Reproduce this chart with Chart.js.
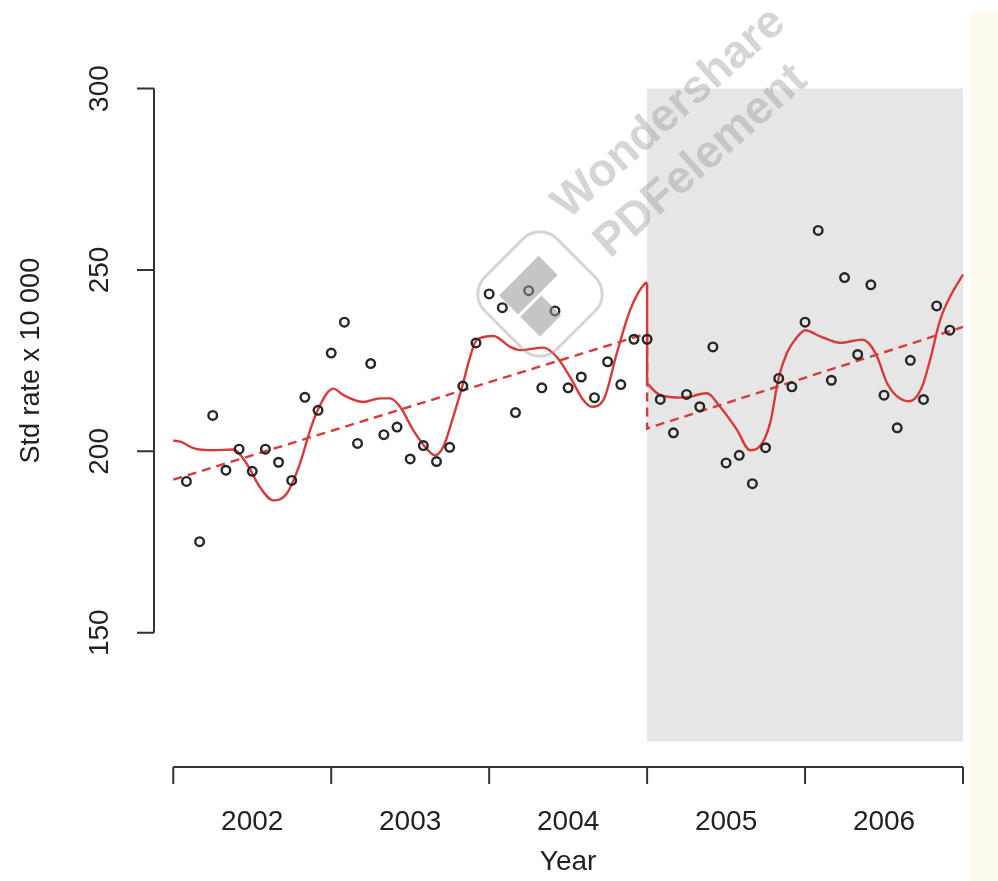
<!DOCTYPE html>
<html>
<head>
<meta charset="utf-8">
<script src="https://cdn.jsdelivr.net/npm/chart.js@4/dist/chart.umd.min.js"></script>
<style>
	html, body { margin: 0; padding: 0; background: #ffffff; }
	#wrap { position: relative; width: 998px; height: 881px; }
	#strip { position: absolute; left: 970px; top: 11px; width: 28px; height: 870px; background: #fffaf0; }
	#chart { position: absolute; left: 0; top: 0; }
</style>
</head>
<body>
<div id="wrap">
	<div id="strip"></div>
	<canvas id="chart" width="998" height="881"></canvas>
</div>
<script>
// monthly observations, Jan 2002 .. Nov 2006
const observed = [
	191.7, 175.1, 209.9, 194.8, 200.6, 194.5, 200.6, 197.0, 192.0, 214.9, 211.3, 227.1,
	235.6, 202.2, 224.2, 204.6, 206.7, 197.9, 201.6, 197.2, 201.1, 218.0, 229.9, 243.4,
	239.6, 210.7, 244.3, 217.5, 238.7, 217.5, 220.5, 214.8, 224.7, 218.4, 230.9, 230.9,
	214.3, 205.1, 215.7, 212.3, 228.8, 196.8, 198.9, 191.1, 201.0, 220.1, 217.8, 235.6,
	260.9, 219.6, 247.9, 226.7, 245.9, 215.5, 206.5, 225.1, 214.3, 240.1, 233.4,
];
const startYear = 2002;

// seasonal fit before the intervention (2002-2004)
const fitX1 = [2002.000, 2002.050, 2002.127, 2002.253, 2002.380, 2002.465, 2002.549, 2002.633,
	2002.718, 2002.802, 2002.866, 2002.912, 2002.971, 2003.013, 2003.077, 2003.203, 2003.309,
	2003.372, 2003.436, 2003.520, 2003.605, 2003.657, 2003.710, 2003.773, 2003.830, 2003.879,
	2003.921, 2004.027, 2004.133, 2004.196, 2004.343, 2004.428, 2004.512, 2004.597, 2004.650,
	2004.723, 2004.808, 2004.892, 2004.987, 2005.000];
const fitY1 = [203.0, 202.6, 200.9, 200.3, 200.5, 196.6, 190.1, 186.5,
	188.3, 196.6, 205.8, 211.1, 215.9, 217.3, 215.5, 213.6, 214.6,
	214.6, 212.3, 205.8, 200.7, 198.9, 201.3, 209.6, 218.0, 226.0,
	230.7, 231.8, 228.8, 227.9, 228.6, 226.0, 220.5, 214.1, 212.3,
	214.1, 227.0, 238.9, 246.3, 246.5];

// seasonal fit after the intervention (2005-2006)
const fitX2 = [2005.000, 2005.082, 2005.228, 2005.378, 2005.462, 2005.568, 2005.652, 2005.705,
	2005.779, 2005.832, 2005.885, 2005.948, 2006.001, 2006.096, 2006.222, 2006.360, 2006.401,
	2006.455, 2006.518, 2006.581, 2006.655, 2006.708, 2006.750, 2006.792, 2006.856, 2006.919,
	2007.000];
const fitY2 = [218.7, 215.5, 214.8, 216.0, 212.3, 206.0, 200.3, 201.0,
	207.8, 220.1, 227.1, 231.4, 233.4, 231.7, 229.9, 230.8, 229.9,
	226.2, 218.9, 215.2, 213.8, 215.2, 218.9, 225.3, 236.3, 242.7,
	248.7];

// linear trend, with the level step at 2005
const trendX = [2002, 2005, 2005, 2007];
const trendY = [192.2, 232.5, 206.3, 234.3];

const yTicks = [150, 200, 250, 300];
const yearTicks = [2002, 2003, 2004, 2005, 2006, 2007];
const yearLabels = ['2002', '2003', '2004', '2005', '2006'];
const xTitle = 'Year';
const yTitle = 'Std rate x 10 000';

const shadeFrom = 2005;
const shadeTo = 2007;
const shadeTop = 300;
const shadeBottom = 120;

const RED = '#d63b3b';
const INK = '#333333';
const FONT = 'Liberation Sans, Arial, sans-serif';

function toPoints(xs, ys) {
	return xs.map((x, i) => ({ x, y: ys[i] }));
}

const obsPoints = observed.map((v, i) => ({ x: startYear + (i + 1) / 12, y: v }));
const jumpPoints = [
	{ x: fitX1[fitX1.length - 1], y: fitY1[fitY1.length - 1] },
	{ x: fitX2[0], y: fitY2[0] },
];

const shadePlugin = {
	id: 'shade',
	beforeDatasetsDraw(chart) {
		const { ctx, scales: { x, y } } = chart;
		ctx.save();
		ctx.fillStyle = '#e6e6e6';
		const x0 = x.getPixelForValue(shadeFrom);
		const x1 = x.getPixelForValue(shadeTo);
		const y0 = y.getPixelForValue(shadeTop);
		const y1 = y.getPixelForValue(shadeBottom);
		ctx.fillRect(x0, y0, x1 - x0, y1 - y0);
		ctx.restore();
	},
};

// R style axes: lines only over the tick range, rotated y labels
const axesPlugin = {
	id: 'rAxes',
	afterDraw(chart) {
		const { ctx, chartArea, scales: { x, y } } = chart;
		const tick = 17;
		ctx.save();
		ctx.strokeStyle = INK;
		ctx.fillStyle = '#222222';
		ctx.lineWidth = 2;

		// y axis
		const ax = chartArea.left;
		ctx.beginPath();
		ctx.moveTo(ax, y.getPixelForValue(yTicks[0]));
		ctx.lineTo(ax, y.getPixelForValue(yTicks[yTicks.length - 1]));
		yTicks.forEach((t) => {
			const py = y.getPixelForValue(t);
			ctx.moveTo(ax - tick, py);
			ctx.lineTo(ax, py);
		});
		ctx.stroke();
		ctx.font = '28px ' + FONT;
		ctx.textAlign = 'center';
		ctx.textBaseline = 'middle';
		yTicks.forEach((t) => {
			ctx.save();
			ctx.translate(ax - 54, y.getPixelForValue(t));
			ctx.rotate(-Math.PI / 2);
			ctx.fillText(String(t), 0, 0);
			ctx.restore();
		});
		ctx.save();
		ctx.font = '27px ' + FONT;
		ctx.translate(32, (y.getPixelForValue(yTicks[0]) + y.getPixelForValue(yTicks[yTicks.length - 1])) / 2);
		ctx.rotate(-Math.PI / 2);
		ctx.fillText(yTitle, 0, 0);
		ctx.restore();

		// x axis
		const ay = chartArea.bottom;
		ctx.beginPath();
		ctx.moveTo(x.getPixelForValue(yearTicks[0]), ay);
		ctx.lineTo(x.getPixelForValue(yearTicks[yearTicks.length - 1]), ay);
		yearTicks.forEach((t) => {
			const px = x.getPixelForValue(t);
			ctx.moveTo(px, ay);
			ctx.lineTo(px, ay + tick);
		});
		ctx.stroke();
		ctx.font = '28px ' + FONT;
		yearLabels.forEach((lab, i) => {
			ctx.fillText(lab, x.getPixelForValue(yearTicks[i] + 0.5), ay + 55);
		});
		ctx.fillText(xTitle, x.getPixelForValue((yearTicks[0] + yearTicks[yearTicks.length - 1]) / 2), ay + 95);
		ctx.restore();
	},
};

// the PDF editor watermark that sits over the picture
const watermarkPlugin = {
	id: 'watermark',
	afterDatasetsDraw(chart) {
		const { ctx } = chart;
		const angle = -41.5 * Math.PI / 180;
		ctx.save();
		ctx.globalAlpha = 0.4;
		ctx.fillStyle = '#969696';
		ctx.strokeStyle = '#969696';
		ctx.font = 'bold 46px ' + FONT;
		ctx.textAlign = 'left';
		ctx.textBaseline = 'alphabetic';
		ctx.save();
		ctx.translate(568, 220);
		ctx.rotate(angle);
		ctx.fillText('Wondershare', 0, 0);
		ctx.restore();
		ctx.save();
		ctx.translate(610, 259);
		ctx.rotate(angle);
		ctx.fillText('PDFelement', 0, 0);
		ctx.restore();

		ctx.save();
		ctx.translate(540, 294);
		ctx.rotate(-Math.PI / 4);
		ctx.lineWidth = 3;
		ctx.beginPath();
		ctx.roundRect(-51, -51, 102, 102, 24);
		ctx.stroke();
		ctx.globalAlpha = 0.55;
		ctx.fillRect(-30, -28, 56, 27);
		ctx.fillRect(-30, 2, 30, 28);
		ctx.restore();
		ctx.restore();
	},
};

const lineStyle = {
	showLine: true,
	borderColor: RED,
	borderWidth: 2.4,
	pointRadius: 0,
	pointHoverRadius: 0,
	clip: false,
};

// eslint-disable-next-line no-new
new Chart(document.getElementById('chart'), {
	type: 'scatter',
	data: {
		datasets: [
			{
				label: 'Observed',
				data: obsPoints,
				showLine: false,
				pointRadius: 4.3,
				pointBorderWidth: 2.4,
				pointBorderColor: '#262626',
				pointBackgroundColor: 'rgba(0,0,0,0)',
				clip: false,
			},
			{ label: 'Fit 2002-2004', data: toPoints(fitX1, fitY1), cubicInterpolationMode: 'monotone', ...lineStyle },
			{ label: 'Fit 2005-2006', data: toPoints(fitX2, fitY2), cubicInterpolationMode: 'monotone', ...lineStyle },
			{ label: 'Step', data: jumpPoints, tension: 0, ...lineStyle },
			{ label: 'Trend', data: toPoints(trendX, trendY), tension: 0, borderDash: [9, 6], ...lineStyle },
		],
	},
	options: {
		responsive: false,
		animation: false,
		layout: { padding: { left: 154, right: 35, top: 16, bottom: 114 } },
		plugins: { legend: { display: false }, tooltip: { enabled: false } },
		scales: {
			x: { type: 'linear', min: 2001.878, max: 2007, display: false },
			y: { type: 'linear', min: 113, max: 320, display: false },
		},
	},
	plugins: [shadePlugin, axesPlugin, watermarkPlugin],
});
</script>
</body>
</html>
